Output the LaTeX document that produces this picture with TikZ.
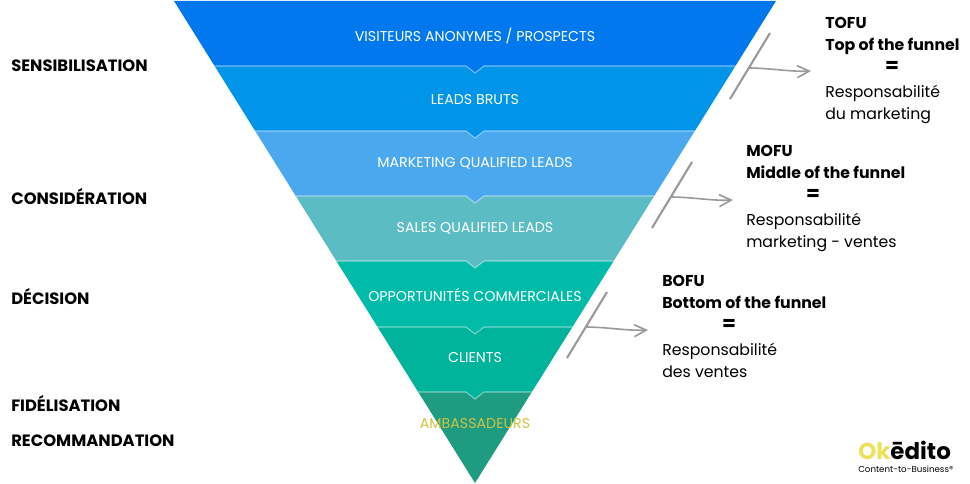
\documentclass[tikz,border=0pt]{standalone}
\usepackage{fontspec}
\setmainfont{Poppins}
\usetikzlibrary{arrows.meta}
\definecolor{bandA}{HTML}{0278EE}
\definecolor{bandB}{HTML}{0195EA}
\definecolor{bandC}{HTML}{4AA8EE}
\definecolor{bandD}{HTML}{5CBCC4}
\definecolor{bandE}{HTML}{00BBA8}
\definecolor{bandF}{HTML}{00B39B}
\definecolor{bandG}{HTML}{1E9C82}
\definecolor{goldtext}{HTML}{D2C23E}
\definecolor{logoyellow}{HTML}{EFE05A}
\definecolor{slashgray}{HTML}{9A9A9A}
\tikzset{
    stage/.style={anchor=west,inner sep=0pt,font=\fontsize{12.3}{14}\selectfont\bfseries},
    bandlabel/.style={inner sep=0pt,text=white,font=\fontsize{10.65}{12}\selectfont},
    tofutitle/.style={anchor=north west,inner sep=0pt,align=left,font=\fontsize{11.8}{16.5}\selectfont\bfseries},
    tofutext/.style={anchor=north west,inner sep=0pt,align=left,font=\fontsize{11.8}{16.5}\selectfont},
    eqsign/.style={inner sep=0pt,font=\fontsize{15}{15}\selectfont\bfseries},
    slash/.style={slashgray,line width=1.6pt},
    pointer/.style={slashgray,line width=1.2pt,-{Straight Barb[length=9pt,width=9pt]}},
}
\begin{document}
\begin{tikzpicture}[x=0.75pt,y=-0.75pt]
    \useasboundingbox (0,0) rectangle (970,484);
    % funnel bands, lowest first so each notch lies over the next band
    \fill[bandG] (418.2,392) -- (531.8,392) -- (475,483) -- cycle;
    \foreach \ytop/\ybot/\col in {327/392/bandF,261/327/bandE,196/261/bandD,131/196/bandC,66/131/bandB,1/66/bandA} {
        \pgfmathsetmacro{\xtl}{174+0.6245*(\ytop-1)}
        \pgfmathsetmacro{\xtr}{776-0.6245*(\ytop-1)}
        \pgfmathsetmacro{\xbl}{174+0.6245*(\ybot-1)}
        \pgfmathsetmacro{\xbr}{776-0.6245*(\ybot-1)}
        \fill[\col] (\xtl,\ytop) -- (\xtr,\ytop) -- (\xbr,\ybot) -- (484,\ybot) -- (475,\ybot+7) -- (466,\ybot) -- (\xbl,\ybot) -- cycle;
        \draw[white,opacity=.45,line width=.8pt] (\xbl,\ybot) -- (466,\ybot) -- (475,\ybot+7) -- (484,\ybot) -- (\xbr,\ybot);
    }
    \node[bandlabel] (visitors) at (475,36) {VISITEURS ANONYMES / PROSPECTS};
    \node[bandlabel] (rawleads) at (475,100) {LEADS BRUTS};
    \node[bandlabel] (mql) at (475,163) {MARKETING QUALIFIED LEADS};
    \node[bandlabel] (sql) at (475,228) {SALES QUALIFIED LEADS};
    \node[bandlabel] (opps) at (475,295) {OPPORTUNITÉS COMMERCIALES};
    \node[bandlabel] (clients) at (475,358) {CLIENTS};
    \node[bandlabel,text=goldtext] (ambassadors) at (475,424) {AMBASSADEURS};
    % stages on the left
    \node[stage] (awareness) at (11,66) {SENSIBILISATION};
    \node[stage] (consideration) at (11,197) {CONSIDÉRATION};
    \node[stage] (decision) at (11,297) {DÉCISION};
    \node[stage] (loyalty) at (11,404) {FIDÉLISATION};
    \node[stage] (advocacy) at (11,441) {RECOMMANDATION};
    % slashes and arrows
    \foreach \name/\dx/\dy in {tofu/0/0,mofu/-78/129,bofu/-163/259} {
        \coordinate (\name top) at (770+\dx,33+\dy);
        \coordinate (\name low) at (730+\dx,99+\dy);
        \coordinate (\name from) at (748+\dx,68+\dy);
        \coordinate (\name to) at (811+\dx,71+\dy);
        \draw[slash] (\name top) -- (\name low);
        \draw[pointer] (\name from) .. controls (770+\dx,68+\dy) and (790+\dx,72+\dy) .. (\name to);
    }
    % text blocks
    \node[tofutitle] (tofutitle) at (825,17) {TOFU\\Top of the funnel};
    \node[eqsign] (tofueq) at (892,67) {=};
    \node[tofutext] (tofutext) at (825,85) {Responsabilité\\du marketing};
    \node[tofutitle] (mofutitle) at (746,145) {MOFU\\Middle of the funnel};
    \node[eqsign] (mofueq) at (813,195) {=};
    \node[tofutext] (mofutext) at (746,213) {Responsabilité\\marketing - ventes};
    \node[tofutitle] (bofutitle) at (662,275) {BOFU\\Bottom of the funnel};
    \node[eqsign] (bofueq) at (729,325) {=};
    \node[tofutext] (bofutext) at (662,343) {Responsabilité\\des ventes};
    % logo
    \node[anchor=west,inner sep=0pt,font=\fontsize{17.2}{18}\selectfont\bfseries] (logo) at (858,450) {\textcolor{logoyellow}{Ok}ēdito};
    \node[anchor=west,inner sep=0pt,font=\fontsize{6.5}{7}\selectfont] (baseline) at (858,469) {Content-to-Business®};
\end{tikzpicture}
\end{document}
